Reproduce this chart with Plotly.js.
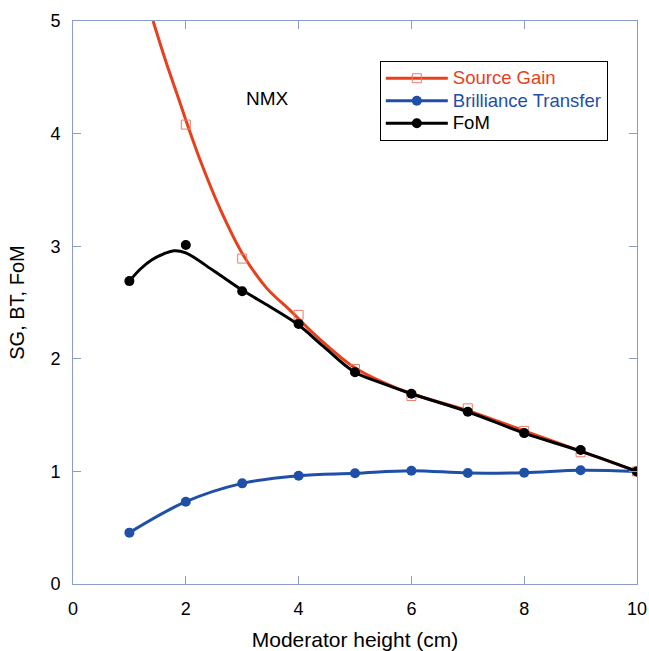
<!DOCTYPE html>
<html><head><meta charset="utf-8">
<script src="https://cdn.plot.ly/plotly-3.0.1.min.js"></script>
<style>html,body{margin:0;padding:0;background:#fff}#chart{width:649px;height:651px}</style>
</head><body><div id="chart"></div>
<script>
// Measured points
const heights = [1, 2, 3, 4, 5, 6, 7, 8, 9, 10];
const sgHeights = [2, 3, 4, 5, 6, 7, 8, 9, 10];
const sourceGain = [4.08, 2.89, 2.39, 1.91, 1.67, 1.56, 1.36, 1.17, 1.0];
const brilliance = [0.456, 0.731, 0.894, 0.962, 0.983, 1.006, 0.986, 0.989, 1.01, 1.0];
const fom = [2.69, 3.01, 2.60, 2.31, 1.88, 1.69, 1.53, 1.34, 1.19, 1.0];
// Fitted curves
const sgCurveX = [1.42, 1.66, 1.9, 2.0, 2.25, 2.61, 3.02, 3.43, 3.85, 4.32, 4.97, 5.5, 6, 7, 8, 9, 10];
const sgCurveY = [5.0, 4.62, 4.27, 4.12, 3.77, 3.33, 2.92, 2.63, 2.43, 2.20, 1.93, 1.79, 1.69, 1.54, 1.36, 1.18, 1.0];
const fomCurveX = [1, 1.2, 1.4, 1.6, 1.8, 2, 2.5, 3, 3.5, 4, 4.44, 5, 5.5, 6, 7, 8, 9, 10];
const fomCurveY = [2.69, 2.80, 2.88, 2.93, 2.96, 2.94, 2.78, 2.61, 2.46, 2.30, 2.11, 1.88, 1.78, 1.69, 1.53, 1.34, 1.18, 1.0];
const seriesNames = ['Source Gain', 'Brilliance Transfer', 'FoM'];
const xTicks = [0, 2, 4, 6, 8, 10];
const yTicks = [0, 1, 2, 3, 4, 5];

const RED = '#e8401c', BLUE = '#1f4fa6', BLACK = '#000000', SQ = '#ec7a66';
const FONT = 'Liberation Sans, Arial, Helvetica, sans-serif';
const legName = (t, c) => '<span style="font-size:18.5px;color:' + c + '">' + t + '</span>';

const traces = [
  {x: sgCurveX, y: sgCurveY, mode: 'lines', line: {color: RED, width: 3, shape: 'spline', smoothing: 1}, showlegend: false, hoverinfo: 'skip'},
  {x: sgHeights, y: sourceGain, mode: 'markers', marker: {symbol: 'square-open', size: 9, color: SQ, line: {width: 1, color: SQ}}, showlegend: false},
  {x: heights, y: brilliance, mode: 'lines+markers', line: {color: BLUE, width: 3, shape: 'spline', smoothing: 1}, marker: {size: 10, color: BLUE}, showlegend: false},
  {x: fomCurveX, y: fomCurveY, mode: 'lines', line: {color: BLACK, width: 3, shape: 'spline', smoothing: 1}, showlegend: false, hoverinfo: 'skip'},
  {x: heights, y: fom, mode: 'markers', marker: {size: 10, color: BLACK}, showlegend: false},
  // legend entries
  {x: [null], y: [null], mode: 'lines+markers', name: legName(seriesNames[0], RED), line: {color: RED, width: 3}, marker: {symbol: 'square-open', size: 9, color: SQ, line: {width: 1, color: SQ}}},
  {x: [null], y: [null], mode: 'lines+markers', name: legName(seriesNames[1], BLUE), line: {color: BLUE, width: 3}, marker: {size: 10, color: BLUE}},
  {x: [null], y: [null], mode: 'lines+markers', name: legName(seriesNames[2], BLACK), line: {color: BLACK, width: 3}, marker: {size: 10, color: BLACK}}
];

const axisCommon = {
  showline: true, linecolor: '#8c9cc8', linewidth: 1, mirror: 'ticks',
  ticks: 'inside', ticklen: 8, tickcolor: '#8c9cc8', tickwidth: 1,
  showgrid: false, zeroline: false,
  tickfont: {family: FONT, size: 18, color: '#000'}
};

const layout = {
  width: 649, height: 651,
  margin: {l: 73, r: 12, t: 21, b: 67},
  paper_bgcolor: '#fff', plot_bgcolor: '#fff',
  font: {family: FONT, color: '#000'},
  xaxis: Object.assign({}, axisCommon, {range: [0, 10], tickvals: xTicks, ticktext: xTicks.map(String), ticklabelstandoff: 8,
    title: {text: 'Moderator height (cm)', font: {family: FONT, size: 21}, standoff: 14}}),
  yaxis: Object.assign({}, axisCommon, {range: [0, 5], tickvals: yTicks, ticktext: yTicks.map(String), ticklabelstandoff: 8,
    title: {text: 'SG, BT, FoM', font: {family: FONT, size: 20}, standoff: 20}}),
  legend: {x: 0.544, y: 0.929, xanchor: 'left', yanchor: 'top', bgcolor: '#fff', bordercolor: '#000', borderwidth: 1,
    font: {family: FONT, size: 15, color: '#000'}, tracegroupgap: 0, itemwidth: 62},
  annotations: [{x: 3.44, y: 4.31, xref: 'x', yref: 'y', text: 'NMX', showarrow: false, font: {family: FONT, size: 19, color: '#000'}}],
  showlegend: true
};

Plotly.newPlot('chart', traces, layout, {displayModeBar: false, staticPlot: true});
</script></body></html>
